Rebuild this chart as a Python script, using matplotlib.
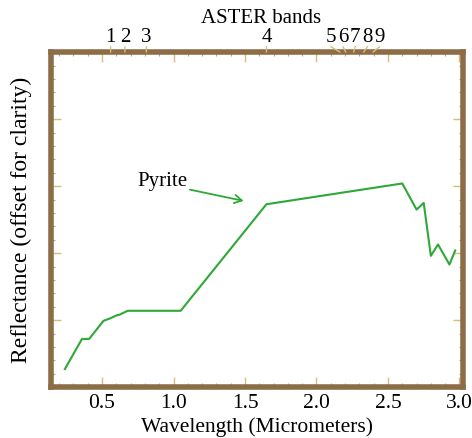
import numpy as np
import matplotlib.pyplot as plt
from matplotlib.ticker import MultipleLocator
import matplotlib.transforms as mtransforms

# pyrite spectrum (wavelength in micrometers, offset reflectance)
wavelength = [0.24, 0.36, 0.41, 0.51, 0.56, 0.60, 0.62, 0.68, 1.05, 1.65,
              2.60, 2.70, 2.75, 2.80, 2.85, 2.93, 2.97]
reflectance = [0.27, 0.72, 0.72, 0.99, 1.03, 1.07, 1.08, 1.14, 1.14, 2.73,
               3.04, 2.65, 2.75, 1.96, 2.13, 1.83, 2.04]

# ASTER band centers (micrometers)
band_centers = [0.56, 0.66, 0.81, 1.65, 2.165, 2.205, 2.26, 2.33, 2.395]
band_labels = ["1", "2", "3", "4", "5", "6", "7", "8", "9"]

frame_col = "#8c6d48"
major_col = "#d9bb7d"
minor_col = "#a9a9a9"
line_col = "#2ea836"

plt.rcParams["font.family"] = ["Liberation Serif", "DejaVu Serif"]

fig = plt.figure(figsize=(4.72, 4.38), dpi=100)
ax = fig.add_axes([0.108, 0.116, 0.873, 0.765])

ax.plot(wavelength, reflectance, color=line_col, lw=1.5)

ax.annotate("Pyrite", xy=(1.49, 2.78), xytext=(0.745, 3.07),
            fontsize=15, va="center", ha="left",
            arrowprops=dict(arrowstyle="->,head_length=0.35,head_width=0.2",
                            color=line_col, lw=1.3,
                            relpos=(1.0, 0.1), shrinkA=0, shrinkB=0))

ax.set_xlim(0.143, 3.025)
ax.set_ylim(0, 5)

ax.xaxis.set_major_locator(MultipleLocator(0.5))
ax.xaxis.set_minor_locator(MultipleLocator(0.1))
ax.yaxis.set_major_locator(MultipleLocator(1))
ax.yaxis.set_minor_locator(MultipleLocator(0.2))

ax.tick_params(which="both", direction="in", top=True, right=True)
ax.tick_params(which="major", length=7, width=1, color=major_col,
               labelsize=15.5, pad=5)
ax.tick_params(which="minor", length=3, width=0.8, color=minor_col)
ax.tick_params(axis="y", which="major", labelleft=False)

for sp in ax.spines.values():
    sp.set_color(frame_col)
    sp.set_linewidth(4)

ax.set_xlabel("Wavelength (Micrometers)", fontsize=15.5, labelpad=3)
ax.set_ylabel("Reflectance (offset for clarity)", fontsize=17, labelpad=10)

# band numbers above the frame, bands 5-9 spread out with leader lines
centers = np.array(band_centers)
label_x = centers.copy()
tail = centers[4:]
step = 0.085
label_x[4:] = tail.mean() + (np.arange(len(tail)) - (len(tail) - 1) / 2) * step

trans = mtransforms.blended_transform_factory(ax.transData, ax.transAxes)
for cx, lx, lab in zip(centers, label_x, band_labels):
    ax.text(lx, 1.016, lab, transform=trans, fontsize=15,
            ha="center", va="bottom", clip_on=False)
    ax.annotate("", xy=(cx, 1.0), xycoords=trans,
                xytext=(lx, 1.016), textcoords=trans,
                arrowprops=dict(arrowstyle="-", color=major_col, lw=1,
                                shrinkA=0, shrinkB=0),
                annotation_clip=False)

ax.text(0.51, 1.072, "ASTER bands", transform=ax.transAxes,
        fontsize=15, ha="center", va="bottom")

fig.savefig("out.png", dpi=100)
